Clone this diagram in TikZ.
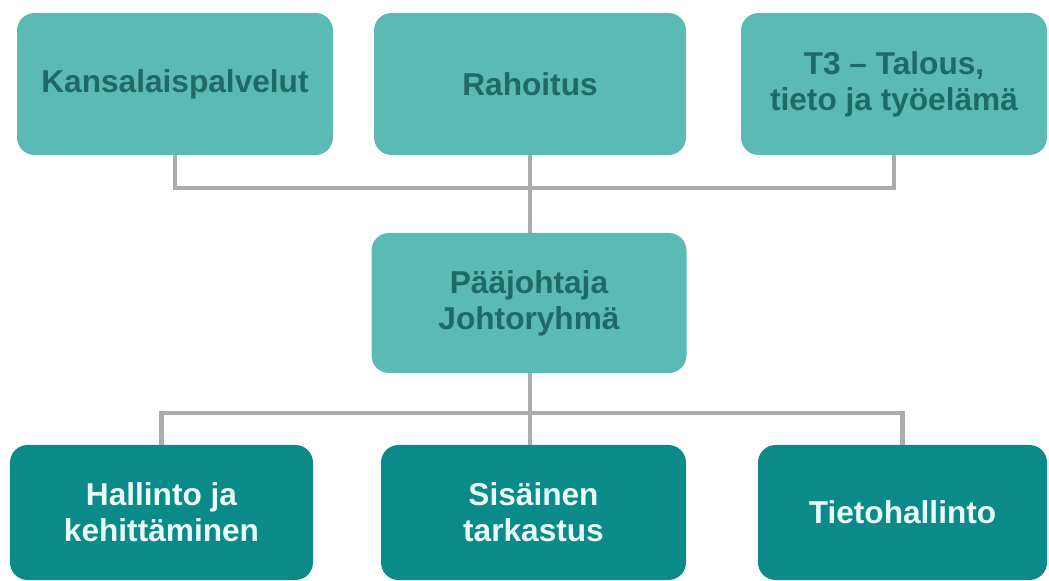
\documentclass[tikz,border=0pt]{standalone}
\usepackage{fontspec}
\setmainfont{Liberation Sans}
\usepackage{xcolor}
\usetikzlibrary{positioning,calc}
\definecolor{lightteal}{HTML}{5CBAB5}
\definecolor{darkteal} {HTML}{0A8A88}
\definecolor{deepink}  {HTML}{1E6A67}
\definecolor{paleink}  {HTML}{E8FBFA}
\definecolor{wire}     {HTML}{A9AEAC}
\tikzset{
  unit/.style  = {rounded corners=10pt, fill=lightteal, text=deepink,
                  minimum height=28.4mm, align=center,
                  font=\fontsize{18}{20.5}\selectfont\bfseries, inner sep=3pt},
  dept/.style  = {rounded corners=10pt, fill=darkteal, text=paleink,
                  minimum height=27mm, align=center,
                  font=\fontsize{18}{20.5}\selectfont\bfseries, inner sep=3pt},
  link/.style  = {draw=wire, line width=2.6pt},
}

\begin{document}
\begin{tikzpicture}
  \useasboundingbox (0,0) rectangle (20.98,11.6);

  % top row
  \node[unit, minimum width=63.2mm] (kans) at (3.5,9.92)  {Kansalaispalvelut};
  \node[unit, minimum width=62.4mm] (raho) at (10.6,9.92) {Rahoitus};
  \node[unit, minimum width=61.2mm] (tyo)  at (17.88,9.92) {T3 -- Talous,\\tieto ja työelämä};

  % management
  \node[unit, minimum width=63mm, minimum height=28mm] (paa) at (10.58,5.54)
    {Pääjohtaja\\Johtoryhmä};

  % bottom row
  \node[dept, minimum width=60.6mm] (hall) at (3.23,1.35)  {Hallinto ja\\kehittäminen};
  \node[dept, minimum width=61mm]   (sis)  at (10.67,1.35) {Sisäinen\\tarkastus};
  \node[dept, minimum width=57.8mm] (tiet) at (18.05,1.35) {Tietohallinto};

  % connectors
  \coordinate (topbus) at (10.6,7.84);
  \coordinate (botbus) at (10.6,3.34);
  \draw[link] (kans.south) |- (topbus) -| (tyo.south);
  \draw[link] (raho.south) -- (raho.south |- paa.north);
  \draw[link] (botbus |- paa.south) -- (botbus);
  \draw[link] (hall.north) |- (botbus) -| (tiet.north);
  \draw[link] (botbus) -- (botbus |- sis.north);
\end{tikzpicture}
\end{document}
